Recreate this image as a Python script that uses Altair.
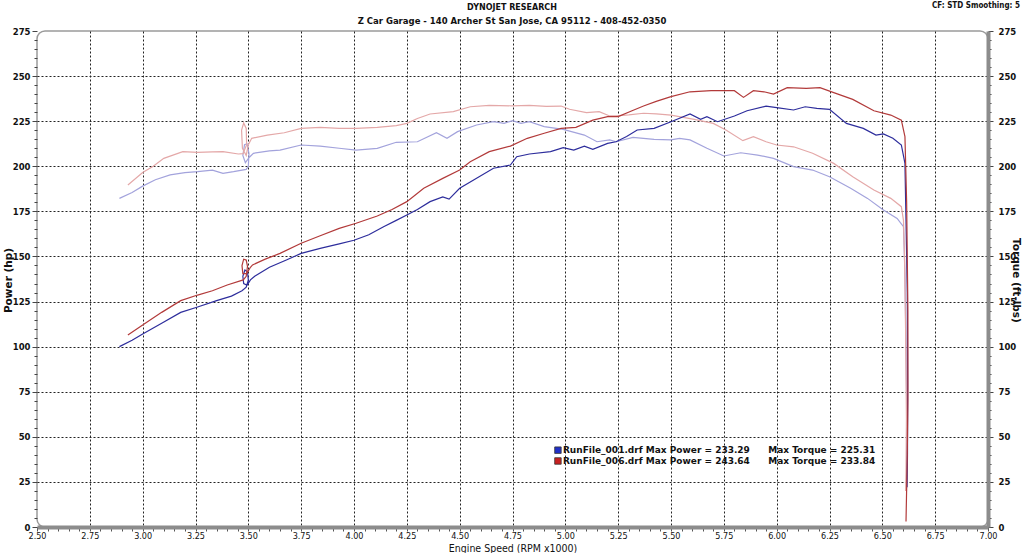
import altair as alt
import pandas as pd

# ---------------- data ----------------
BP_RPM = [2.89, 2.95, 3.00, 3.09, 3.18, 3.26, 3.35, 3.42, 3.47, 3.49, 3.500, 3.496, 3.484, 3.474, 3.478,
          3.494, 3.51, 3.53, 3.60, 3.68, 3.75, 3.84, 3.93, 4.00, 4.07, 4.14, 4.20, 4.25, 4.30, 4.36, 4.42,
          4.45, 4.50, 4.58, 4.66, 4.74, 4.77, 4.83, 4.93, 4.99, 5.04, 5.09, 5.13, 5.20, 5.24, 5.29, 5.34,
          5.42, 5.50, 5.59, 5.64, 5.67, 5.72, 5.80, 5.86, 5.95, 6.00, 6.08, 6.135, 6.19, 6.25, 6.33, 6.41,
          6.47, 6.505, 6.55, 6.59, 6.607, 6.612, 6.618, 6.62, 6.619, 6.617]
BP_HP = [100, 103.5, 107, 113, 119, 122, 125.5, 128, 131, 133, 137, 141.5, 142.5, 139, 135,
         134, 137, 139, 144, 148, 151.7, 154.5, 157, 159, 162, 166.5, 170, 173, 176, 180.4, 183,
         181.8, 187.8, 193.3, 198.9, 200.7, 205.3, 206.8, 208.1, 210.3, 209, 211.2, 209.4, 212.7, 213.6, 216.5, 220.1,
         221, 224.7, 229, 226, 227.5, 224.7, 227.9, 230.8, 233.3, 232.5, 231.2, 233.0, 232.1, 231.6, 223.8, 221,
         217.3, 217.9, 215.5, 211.8, 201.6, 170, 130, 80, 40, 22]

RP_RPM = [2.93, 3.00, 3.09, 3.18, 3.26, 3.33, 3.40, 3.476, 3.49, 3.496, 3.49, 3.478, 3.470, 3.474, 3.492,
          3.51, 3.52, 3.58, 3.65, 3.75, 3.84, 3.93, 4.01, 4.11, 4.18, 4.25, 4.33, 4.42, 4.50, 4.55, 4.64,
          4.74, 4.82, 4.90, 4.98, 5.05, 5.13, 5.20, 5.25, 5.31, 5.37, 5.43, 5.50, 5.59, 5.69, 5.80, 5.843,
          5.89, 5.94, 5.985, 6.05, 6.14, 6.205, 6.27, 6.36, 6.46, 6.54, 6.59, 6.607, 6.615, 6.621, 6.621,
          6.618, 6.614, 6.612]
RP_HP = [106.4, 112, 119, 125.5, 128.6, 131, 134.2, 137, 139, 144.5, 148, 148.5, 145, 140.5, 140.5,
         144, 145.3, 148.5, 151.7, 157.3, 161.5, 165.6, 168.4, 172.4, 176, 180.4, 187.8, 193.3, 197.9, 202.5, 208.1,
         211.2, 215.5, 218.3, 221, 221.6, 225.6, 227.5, 227.5, 230.5, 233.4, 236, 238.6, 241.3, 241.9, 241.9, 238.2,
         241.9, 241.3, 240, 243.6, 243.2, 243.6, 240.8, 237.1, 230.8, 228.4, 225.6, 216.4, 180, 120, 70,
         40, 15, 3]

RT_RPM = [2.93, 3.00, 3.05, 3.10, 3.19, 3.26, 3.33, 3.38, 3.453, 3.475, 3.492, 3.490, 3.478, 3.468, 3.472,
          3.49, 3.50, 3.516, 3.59, 3.67, 3.75, 3.84, 3.93, 4.01, 4.11, 4.20, 4.25, 4.30, 4.36, 4.47, 4.55,
          4.64, 4.75, 4.83, 4.91, 4.98, 5.02, 5.10, 5.16, 5.21, 5.24, 5.30, 5.37, 5.43, 5.50, 5.61, 5.70,
          5.76, 5.84, 5.89, 5.95, 6.00, 6.08, 6.17, 6.27, 6.36, 6.46, 6.54, 6.59, 6.60, 6.605, 6.61, 6.614,
          6.612, 6.61]
RT_TQ = [189.6, 196.5, 200, 204.4, 208.1, 207.7, 208, 208.1, 206.8, 207, 212, 221, 224, 220, 210,
         206, 212, 215.5, 217.3, 218.6, 221, 221.6, 221, 221, 221.6, 222.5, 223.8, 226.5, 229, 230.3, 233,
         233.8, 233.5, 233.8, 233.2, 233.4, 231.6, 229.7, 230.3, 227.9, 227.9, 228.5, 229.4, 229, 228.4, 226, 223.8,
         220.1, 214.2, 216.4, 213.6, 211.8, 210.8, 207.2, 201.6, 194.2, 186.8, 182.2, 177.6, 170, 150, 110, 60,
         30, 20]

BT_RPM = [2.89, 2.95, 3.00, 3.06, 3.13, 3.20, 3.26, 3.33, 3.38, 3.43, 3.49, 3.50, 3.503, 3.494, 3.482,
          3.474, 3.486, 3.505, 3.524, 3.60, 3.65, 3.75, 3.84, 3.93, 4.01, 4.11, 4.20, 4.30, 4.39, 4.44, 4.49,
          4.58, 4.66, 4.71, 4.75, 4.79, 4.83, 4.90, 4.99, 5.09, 5.15, 5.21, 5.24, 5.32, 5.42, 5.50, 5.54,
          5.59, 5.67, 5.75, 5.83, 5.91, 5.985, 6.08, 6.17, 6.25, 6.35, 6.43, 6.505, 6.57, 6.60, 6.607, 6.612,
          6.616, 6.616, 6.614]
BT_TQ = [182.2, 185.5, 189, 192.5, 195.2, 196.5, 197, 197.9, 196.1, 197, 198.3, 200, 207, 212.5, 212,
         206, 202, 205, 207.2, 208.5, 209, 211.8, 211.2, 210, 209, 209.9, 213.3, 213.6, 218.6, 215.5, 219.2,
         222.9, 224.7, 223.8, 225.3, 223.8, 224.7, 222, 220.5, 217.3, 213.6, 214.6, 213.6, 216, 214.9, 214.6, 215.5,
         214.6, 210, 205.7, 207.5, 206.2, 204.4, 199.8, 197.9, 194.2, 187.8, 182.2, 175.7, 171.1, 166.5, 140, 100,
         60, 35, 20]

SERIES = ["bt", "rt", "bp", "rp"]
COLORS = ["#a3a3dc", "#e4a8a8", "#2d2d9c", "#b23a3a"]

LEG_NAME = ["RunFile_001.drf Max Power = 233.29", "RunFile_006.drf Max Power = 243.64"]
LEG_TQ = ["Max Torque = 225.31", "Max Torque = 233.84"]
LEG_COL = ["#2030c8", "#c82020"]
LEG_RPM = [4.965, 5.96]      # square position / torque text position (rpm)
LEG_Y = [42.6, 36.6]

HEAD_1 = "DYNOJET RESEARCH"
HEAD_2 = "Z Car Garage - 140 Archer St San Jose, CA 95112 - 408-452-0350"
HEAD_3 = "CF: STD  Smoothing: 5"

X_TICKS = [round(2.5 + 0.05 * i, 2) for i in range(91)]
Y_TICKS = list(range(0, 280, 5))

# ---------------- frame ----------------
rows = []
for name, xs, ys in [("bt", BT_RPM, BT_TQ), ("rt", RT_RPM, RT_TQ),
                     ("bp", BP_RPM, BP_HP), ("rp", RP_RPM, RP_HP)]:
    for k, (a, b) in enumerate(zip(xs, ys)):
        rows.append({"s": name, "rpm": a, "v": b, "i": k})
df = pd.DataFrame(rows)

W, H = 951, 496
FONT_C = "DejaVu Sans Condensed"
FONT = "DejaVu Sans"

x_major = "abs(round(datum.value*4) - datum.value*4) < 0.001"
y_major = "datum.value % 25 === 0"

x_axis = alt.Axis(
    values=X_TICKS,
    labelExpr=f"{x_major} ? format(datum.value, '.2f') : ''",
    grid=True,
    gridColor="#222222", gridDash=[2, 2], gridWidth=1,
    gridOpacity={"condition": {"test": f"{x_major} && datum.value > 2.6 && datum.value < 6.9", "value": 1}, "value": 0},
    tickSize=4, tickColor="#555555", tickWidth=1,
    domainColor="#8c8c8c", domainWidth=4,
    labelFont=FONT_C, labelFontSize=9, labelColor="#111111", labelPadding=0,
    labelFlush=False,
    title="Engine Speed (RPM x1000)", titleFont=FONT_C, titleFontSize=10.5,
    titleFontWeight="normal", titleColor="#111111", titleY=24, titleBaseline="alphabetic",
)

x_scale = alt.Scale(domain=[2.5, 7.0], nice=False, zero=False)


def xenc(field):
    return alt.X(f"{field}:Q", scale=x_scale, axis=x_axis)


color_enc = alt.Color("s:N", scale=alt.Scale(domain=SERIES, range=COLORS), legend=None)

left_axis = alt.Axis(
    orient="left", values=Y_TICKS,
    labelExpr=f"{y_major} ? datum.label : ''",
    grid=True, gridColor="#222222", gridDash=[2, 2], gridWidth=1,
    gridOpacity={"condition": {"test": f"{y_major} && datum.value > 0 && datum.value < 275", "value": 1}, "value": 0},
    tickSize={"condition": {"test": y_major, "value": 5}, "value": 3},
    tickColor="#444444", domain=False,
    labelFont=FONT, labelFontSize=8.5, labelFontWeight="bold", labelColor="#111111",
    labelPadding=2, labelFlush=False,
    title="Power (hp)", titleFont=FONT, titleFontSize=10.5, titleFontWeight="bold",
    titleColor="#111111", titleAngle=270, titleX=-29, titleY=249,
    titleAlign="center", titleBaseline="middle",
)

right_axis = alt.Axis(
    orient="right", values=Y_TICKS,
    labelExpr=f"{y_major} ? datum.label : ''",
    grid=False,
    tickSize={"condition": {"test": y_major, "value": 5}, "value": 3},
    tickColor="#444444", domainColor="#8c8c8c", domainWidth=4,
    labelFont=FONT, labelFontSize=8.5, labelFontWeight="bold", labelColor="#111111",
    labelPadding=5, labelFlush=False,
    title="Torque (ft-lbs)", titleFont=FONT, titleFontSize=10.5, titleFontWeight="bold",
    titleColor="#111111", titleAngle=90, titleX=27, titleY=249,
    titleAlign="center", titleBaseline="middle",
)

y_scale = alt.Scale(domain=[0, 275], nice=False)

torque = alt.Chart(df).transform_filter(
    alt.FieldOneOfPredicate(field="s", oneOf=["bt", "rt"])
).mark_line(strokeWidth=1.2, clip=True).encode(
    x=xenc("rpm"),
    y=alt.Y("v:Q", scale=y_scale, axis=right_axis),
    color=color_enc,
    order="i:Q",
    detail="s:N",
)

power = alt.Chart(df).transform_filter(
    alt.FieldOneOfPredicate(field="s", oneOf=["bp", "rp"])
).mark_line(strokeWidth=1.2, clip=True).encode(
    x=xenc("rpm"),
    y=alt.Y("v:Q", scale=y_scale, axis=left_axis),
    color=color_enc,
    order="i:Q",
    detail="s:N",
)

leg_df = pd.DataFrame({"name": LEG_NAME, "tq": LEG_TQ, "col": LEG_COL,
                       "rpm": [LEG_RPM[0]] * 2, "rpm2": [LEG_RPM[1]] * 2, "y": LEG_Y})

leg_sq = alt.Chart(leg_df).mark_square(size=42, stroke="#333333", strokeWidth=0.8, opacity=1).encode(
    x=xenc("rpm"),
    y=alt.Y("y:Q", scale=y_scale, axis=None),
    fill=alt.Fill("col:N", scale=None),
)
leg_name = alt.Chart(leg_df).mark_text(align="left", baseline="middle", dx=5, font=FONT,
                                       fontSize=9, fontWeight="bold", color="#111111").encode(
    x=xenc("rpm"),
    y=alt.Y("y:Q", scale=y_scale, axis=None),
    text="name:N",
)
leg_tq = alt.Chart(leg_df).mark_text(align="left", baseline="middle", font=FONT,
                                     fontSize=9, fontWeight="bold", color="#111111").encode(
    x=xenc("rpm2"),
    y=alt.Y("y:Q", scale=y_scale, axis=None),
    text="tq:N",
)

head_df = pd.DataFrame({"t": [HEAD_1, HEAD_2, HEAD_3],
                        "px": [475, 475, 983], "py": [-23, -10, -25]})
head_1 = alt.Chart(head_df.iloc[:1]).mark_text(align="center", baseline="middle", font=FONT,
                                               fontSize=8, fontWeight="bold", color="#111111").encode(
    x=alt.X("px:Q", scale=None), y=alt.Y("py:Q", scale=None), text="t:N")
head_2 = alt.Chart(head_df.iloc[1:2]).mark_text(align="center", baseline="middle", font=FONT,
                                                fontSize=8.5, fontWeight="bold", color="#111111").encode(
    x=alt.X("px:Q", scale=None), y=alt.Y("py:Q", scale=None), text="t:N")
head_r = alt.Chart(head_df.iloc[2:]).mark_text(align="right", baseline="middle", font=FONT_C,
                                               fontSize=8, fontWeight="bold", color="#111111").encode(
    x=alt.X("px:Q", scale=None), y=alt.Y("py:Q", scale=None), text="t:N")

chart = alt.layer(torque, power, leg_sq, leg_name, leg_tq, head_1, head_2, head_r).resolve_scale(
    y="independent"
).properties(
    width=W, height=H,
    padding={"left": 37, "top": 31, "right": 36, "bottom": 26},
    autosize=alt.AutoSizeParams(type="none"),
    background="white",
).configure_view(
    stroke="#9a9a9a", strokeWidth=1.5, cornerRadius=8,
)

chart.save("out.html", embed_options={"renderer": "svg", "actions": False})
